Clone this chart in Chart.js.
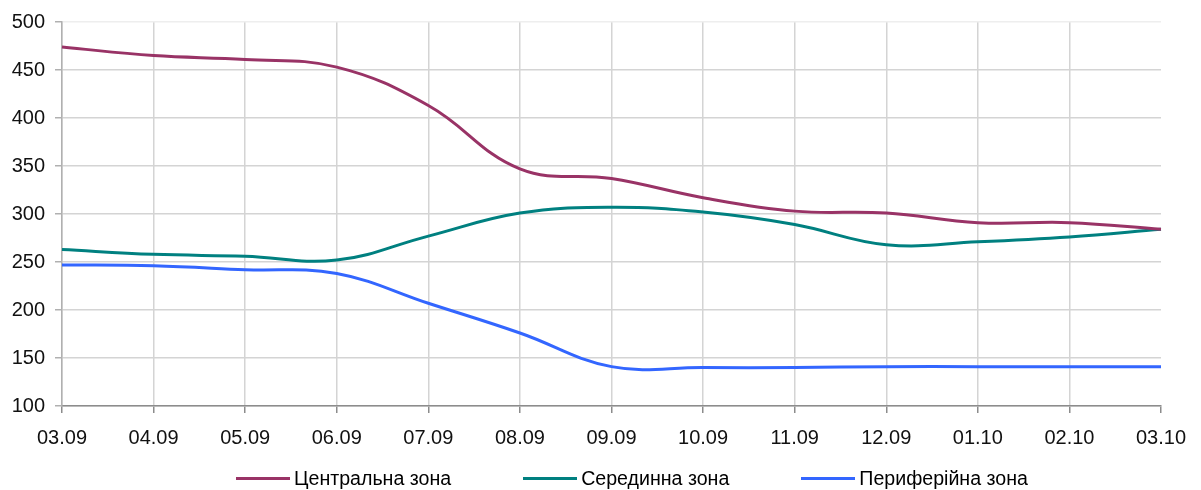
<!DOCTYPE html>
<html>
<head>
<meta charset="utf-8">
<script src="https://cdn.jsdelivr.net/npm/chart.js@4/dist/chart.umd.min.js"></script>
<style>
  html, body { margin: 0; padding: 0; background: #fff; }
  #wrap { position: relative; width: 1201px; height: 490px; }
  #legend {
    position: absolute; left: 236px; top: 466px; height: 24px;
    display: flex; align-items: center; gap: 72px;
    font-family: "Liberation Sans", Arial, sans-serif; font-size: 19.6px; color: #000;
  }
  .item { display: flex; align-items: center; }
  .swatch { width: 54px; height: 3px; margin-right: 4px; }
</style>
</head>
<body>
<div id="wrap">
  <canvas id="chart" width="1201" height="490"></canvas>
  <div id="legend"></div>
</div>
<script>
// Categories (dates) and series
const labels = ["03.09", "04.09", "05.09", "06.09", "07.09", "08.09", "09.09",
  "10.09", "11.09", "12.09", "01.10", "02.10", "03.10"];
const centralZone = [474, 465, 461, 453, 413, 347, 337, 317, 303, 301, 291, 291, 284];
const middleZone = [263, 258, 256, 252, 277, 301, 307, 302, 289, 268, 271, 276, 284];
const peripheralZone = [247, 246, 242, 238, 207, 176, 141, 140, 140, 141, 141, 141, 141];
const seriesNames = ["Центральна зона", "Серединна зона", "Периферійна зона"];
const seriesColors = ["#993366", "#008080", "#3366FF"];
const yTicks = { min: 100, max: 500, step: 50 };

const font = { family: "'Liberation Sans', Arial, sans-serif", size: 20 };

const ctx = document.getElementById("chart").getContext("2d");
const chart = new Chart(ctx, {
  type: "line",
  data: {
    labels: labels,
    datasets: [centralZone, middleZone, peripheralZone].map((values, i) => ({
      label: seriesNames[i],
      data: values,
      borderColor: seriesColors[i],
      backgroundColor: seriesColors[i],
      borderWidth: 3,
      pointRadius: 0,
      tension: 0.4,
      fill: false,
    })),
  },
  options: {
    responsive: false,
    animation: false,
    layout: { padding: { top: 20, right: 40, left: 0, bottom: 0 } },
    plugins: { legend: { display: false }, tooltip: { enabled: false } },
    scales: {
      x: {
        offset: false,
        grid: {
          color: (c) => (c.index === labels.length - 1 ? "rgba(0,0,0,0)" : "#d4d4d4"),
          tickColor: "#8c8c8c",
          tickLength: 7,
          lineWidth: 1.5,
        },
        border: { color: "#8c8c8c", width: 1.5 },
        ticks: { font: font, color: "#111", padding: 13, maxRotation: 0 },
        afterFit: (scale) => { scale.height = 84; },
      },
      y: {
        min: yTicks.min,
        max: yTicks.max,
        grid: {
          color: (c) => (c.tick && c.tick.value === yTicks.max ? "#eeeeee" : "#d4d4d4"),
          tickColor: "#b0b0b0",
          tickLength: 7,
          lineWidth: 1.5,
        },
        border: { color: "#b0b0b0", width: 1.5 },
        ticks: { font: font, color: "#111", padding: 10, stepSize: yTicks.step },
        afterFit: (scale) => { scale.width = 62; },
      },
    },
  },
});

// HTML legend
const legend = document.getElementById("legend");
seriesNames.forEach((name, i) => {
  const item = document.createElement("div");
  item.className = "item";
  item.innerHTML = `<span class="swatch" style="background:${seriesColors[i]}"></span><span>${name}</span>`;
  legend.appendChild(item);
});
</script>
</body>
</html>
